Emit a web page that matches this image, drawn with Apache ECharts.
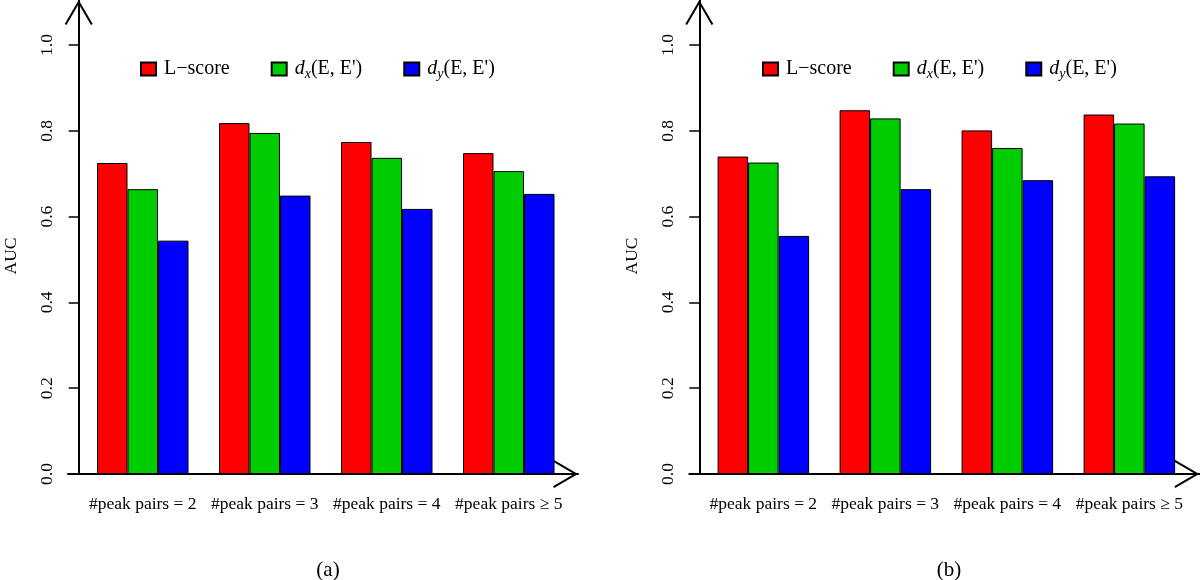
<!DOCTYPE html>
<html>
<head>
<meta charset="utf-8">
<script src="https://cdn.jsdelivr.net/npm/echarts@6/dist/echarts.min.js"></script>
<style>html,body{margin:0;padding:0;background:#fff;}#chart{width:1200px;height:580px;}</style>
</head>
<body>
<div id="chart"></div>
<script>
const categories = ['#peak pairs = 2', '#peak pairs = 3', '#peak pairs = 4', '#peak pairs \u2265 5'];
const seriesNames = ['L\u2212score', "dx(E, E')", "dy(E, E')"];
const seriesColors = ['#FF0000', '#00CD00', '#0000FF'];
// panel (a)
const lscoreA = [0.725, 0.818, 0.774, 0.748];
const dxA = [0.664, 0.795, 0.737, 0.706];
const dyA = [0.544, 0.649, 0.618, 0.653];
// panel (b)
const lscoreB = [0.740, 0.848, 0.801, 0.838];
const dxB = [0.726, 0.829, 0.760, 0.817];
const dyB = [0.555, 0.664, 0.685, 0.694];
const yTicks = [0.0, 0.2, 0.4, 0.6, 0.8, 1.0];
const panelTags = ['(a)', '(b)'];
const yLabel = 'AUC';

const FONT = 'Liberation Serif';
const chevron = 'path://M14,0L28,24L26.27,25L14,4L1.73,25L0,24Z';

const panels = [
  { data: [lscoreA, dxA, dyA], barLeft: 81.75, frameLeft: 68, legendLeft: 140, tagX: 323 },
  { data: [lscoreB, dxB, dyB], barLeft: 702.35, frameLeft: 689.3, legendLeft: 762, tagX: 944 }
];

const grids = [], xAxes = [], yAxes = [], series = [], legends = [], titles = [];
panels.forEach((p, pi) => {
  const gBar = grids.length;
  grids.push({ left: p.barLeft, top: 0, width: 488, height: 474 });
  const gFrame = grids.length;
  grids.push({ left: p.frameLeft, top: 0, width: 510, height: 474 });

  xAxes.push({
    type: 'category', gridIndex: gBar, data: categories,
    axisLine: { show: false }, axisTick: { show: false },
    axisLabel: { margin: 21, fontFamily: FONT, fontSize: 17.5, color: '#000', interval: 0 }
  });
  xAxes.push({
    type: 'value', gridIndex: gFrame, min: 0, max: 1,
    axisLine: { show: true, lineStyle: { color: '#000', width: 2 }, symbol: ['none', chevron], symbolSize: [28, 25], symbolOffset: [0, -12.5] },
    axisTick: { show: false }, axisLabel: { show: false }, splitLine: { show: false }
  });
  yAxes.push({
    type: 'value', gridIndex: gBar, min: 0, max: 1.105, offset: 3.05,
    axisLine: { show: true, lineStyle: { color: '#000', width: 2 }, symbol: ['none', chevron], symbolSize: [28, 25], symbolOffset: [0, -12.5] },
    axisTick: { show: true, length: 10, customValues: yTicks, lineStyle: { color: '#000', width: 1.5 } },
    axisLabel: { customValues: yTicks, rotate: 90, margin: 22, fontFamily: FONT, fontSize: 17.5, color: '#000', formatter: v => v.toFixed(1) },
    splitLine: { show: false },
    name: yLabel, nameLocation: 'middle', nameGap: 58,
    nameTextStyle: { fontFamily: FONT, fontSize: 17.5, color: '#000', padding: [0, 38, 0, 0] }
  });
  yAxes.push({ type: 'value', gridIndex: gFrame, min: 0, max: 1, show: false });

  p.data.forEach((vals, si) => {
    series.push({
      type: 'bar', name: seriesNames[si], xAxisIndex: gBar, yAxisIndex: gBar,
      data: vals, barGap: '0%', barCategoryGap: '25%',
      itemStyle: { color: seriesColors[si], borderColor: '#000', borderWidth: 1 },
      emphasis: { disabled: true }, animation: false
    });
  });

  legends.push({
    left: p.legendLeft, top: 59, padding: 0, icon: 'rect', itemWidth: 15, itemHeight: 13, itemGap: 41,
    data: seriesNames, selectedMode: false,
    textStyle: {
      fontFamily: FONT, fontSize: 20, color: '#000', padding: [0, 0, 0, 3],
      rich: {
        it: { fontFamily: FONT, fontSize: 20, fontStyle: 'italic', color: '#000' },
        sub: { fontFamily: FONT, fontSize: 14, fontStyle: 'italic', color: '#000', padding: [11, 0, 0, 0] },
        n: { fontFamily: FONT, fontSize: 20, color: '#000' }
      }
    },
    formatter: name => {
      if (name === seriesNames[1]) return "{it|d}{sub|x}{n|(E, E')}";
      if (name === seriesNames[2]) return "{it|d}{sub|y}{n|(E, E')}";
      return '{n|' + name + '}';
    }
  });

  titles.push({
    text: panelTags[pi], left: p.tagX, top: 555, textAlign: 'center',
    textStyle: { fontFamily: FONT, fontSize: 21, fontWeight: 'normal', color: '#000' }
  });
});

const chart = echarts.init(document.getElementById('chart'), null, { renderer: 'canvas' });
chart.setOption({
  animation: false,
  backgroundColor: '#fff',
  title: titles,
  grid: grids,
  xAxis: xAxes,
  yAxis: yAxes,
  legend: legends,
  series: series
});
</script>
</body>
</html>
